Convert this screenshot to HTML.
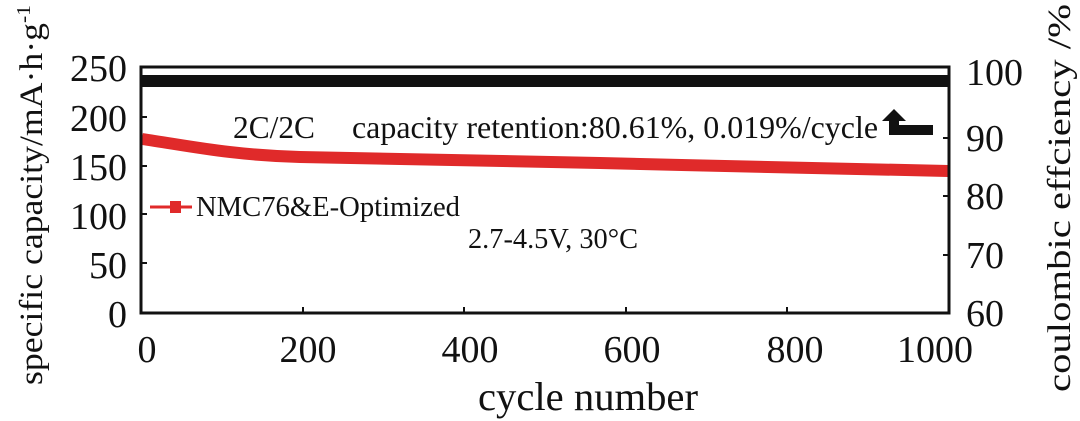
<!DOCTYPE html>
<html><head><meta charset="utf-8"><style>
html,body{margin:0;padding:0;background:#fff;}
svg{display:block;font-family:"Liberation Serif",serif;}
</style></head><body>
<svg width="1080" height="421" viewBox="0 0 1080 421" xmlns="http://www.w3.org/2000/svg">
<rect x="142" y="75" width="806" height="12" fill="#111"/>
<path d="M142,139 C190,146 230,155 300,157 S480,160 600,163 S850,169 948,171" stroke="#e02a2a" stroke-width="12" fill="none"/>
<rect x="141" y="67" width="808" height="246" fill="none" stroke="#111" stroke-width="3"/>
<g stroke="#111" stroke-width="2">
<line x1="141" y1="117" x2="147" y2="117"/><line x1="141" y1="166" x2="147" y2="166"/>
<line x1="141" y1="214" x2="147" y2="214"/><line x1="141" y1="263" x2="147" y2="263"/>
<line x1="943" y1="138" x2="949" y2="138"/><line x1="943" y1="196" x2="949" y2="196"/>
<line x1="943" y1="255" x2="949" y2="255"/>
<line x1="303" y1="313" x2="303" y2="307"/><line x1="464" y1="313" x2="464" y2="307"/>
<line x1="626" y1="313" x2="626" y2="307"/><line x1="787" y1="313" x2="787" y2="307"/>
</g>
<g font-size="38" fill="#111" text-anchor="end">
<text x="127" y="81">250</text><text x="127" y="131">200</text><text x="127" y="180">150</text>
<text x="127" y="229">100</text><text x="127" y="278">50</text><text x="127" y="327">0</text>
</g>
<g font-size="38" fill="#111" text-anchor="start">
<text x="966" y="85">100</text><text x="966" y="151">90</text><text x="966" y="209">80</text>
<text x="966" y="268">70</text><text x="966" y="326">60</text>
</g>
<g font-size="38" fill="#111" text-anchor="middle">
<text x="147" y="362">0</text><text x="308" y="362">200</text><text x="470" y="362">400</text>
<text x="632" y="362">600</text><text x="795" y="362">800</text><text x="935" y="362">1000</text>
</g>
<text x="478" y="410" font-size="40" textLength="220" lengthAdjust="spacingAndGlyphs" fill="#111">cycle number</text>
<text transform="translate(42,385) rotate(-90)" font-size="33" textLength="380" lengthAdjust="spacingAndGlyphs" fill="#111">specific capacity/mA·h·g<tspan font-size="20" dy="-12">-1</tspan></text>
<text transform="translate(1070,392) rotate(-90)" font-size="33" textLength="388" lengthAdjust="spacingAndGlyphs" fill="#111">coulombic effciency /%</text>
<text x="233" y="138" font-size="32" textLength="82" lengthAdjust="spacingAndGlyphs" fill="#111">2C/2C</text>
<text x="352" y="138" font-size="32" textLength="526" lengthAdjust="spacingAndGlyphs" fill="#111">capacity retention:80.61%, 0.019%/cycle</text>
<path d="M894,117 L894,130 L933,130" stroke="#111" stroke-width="10" fill="none"/>
<polygon points="882,121 906,121 894,109" fill="#111"/>
<line x1="150" y1="207" x2="192" y2="207" stroke="#e02a2a" stroke-width="3"/>
<rect x="170" y="201" width="11" height="12" fill="#e02a2a"/>
<text x="196" y="216" font-size="29" textLength="264" lengthAdjust="spacingAndGlyphs" fill="#111">NMC76&amp;E-Optimized</text>
<text x="468" y="248" font-size="28" textLength="170" lengthAdjust="spacingAndGlyphs" fill="#111">2.7-4.5V, 30°C</text>
</svg>
</body></html>
